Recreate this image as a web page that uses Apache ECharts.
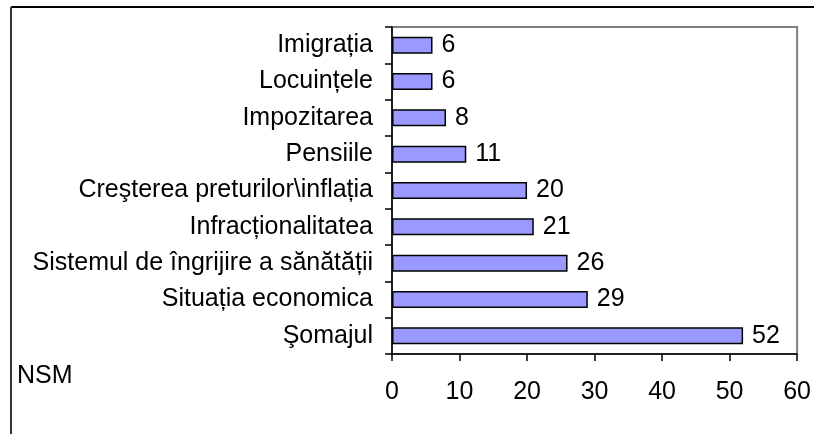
<!DOCTYPE html>
<html>
<head>
<meta charset="utf-8">
<script src="https://cdn.jsdelivr.net/npm/echarts@6/dist/echarts.min.js"></script>
<style>
    html, body { margin: 0; padding: 0; background: #fff; }
    #chart { width: 814px; height: 434px; }
</style>
</head>
<body>
<div id="chart"></div>
<script>
const categories = [
    'Imigrația',
    'Locuințele',
    'Impozitarea',
    'Pensiile',
    'Creşterea preturilor\\inflația',
    'Infracționalitatea',
    'Sistemul de îngrijire a sănătății',
    'Situația economica',
    'Şomajul'
]
const values = [6, 6, 8, 11, 20, 21, 26, 29, 52]
const xTicks = [0, 10, 20, 30, 40, 50, 60]
const noteText = 'NSM'

const font = 'Liberation Sans, Arial, sans-serif'
const chart = echarts.init(document.getElementById('chart'))

chart.setOption({
    animation: false,
    backgroundColor: '#fff',
    textStyle: { fontFamily: font },
    grid: {
        left: 392, right: 14, top: 27, bottom: 80,
        show: true, borderColor: '#808080', borderWidth: 2, backgroundColor: 'transparent'
    },
    xAxis: {
        type: 'value',
        min: xTicks[0],
        max: xTicks[xTicks.length - 1],
        interval: 10,
        splitLine: { show: false },
        axisLine: { show: true, lineStyle: { color: '#000', width: 1.5 } },
        axisTick: { show: true, length: 7, lineStyle: { color: '#000', width: 1.5 } },
        axisLabel: { color: '#000', fontSize: 25, fontFamily: font, margin: 26 }
    },
    yAxis: {
        type: 'category',
        inverse: true,
        data: categories,
        axisLine: { show: true, lineStyle: { color: '#000', width: 1.5 } },
        axisTick: { show: true, length: 7, lineStyle: { color: '#000', width: 1.5 } },
        axisLabel: { color: '#000', fontSize: 25, fontFamily: font, margin: 19 }
    },
    series: [{
        type: 'bar',
        data: values,
        barWidth: '47%',
        itemStyle: { color: '#9999ff', borderColor: '#000', borderWidth: 1.5 },
        label: {
            show: true, position: 'right', distance: 9,
            color: '#000', fontSize: 25, fontFamily: font
        }
    }],
    graphic: [
        { type: 'line', shape: { x1: 11, y1: 7, x2: 814, y2: 7 }, style: { stroke: '#000', lineWidth: 2 } },
        { type: 'line', shape: { x1: 11, y1: 7, x2: 11, y2: 434 }, style: { stroke: '#333', lineWidth: 2 } },
        { type: 'text', left: 17, top: 364, style: { text: noteText, fill: '#000', fontSize: 25, fontFamily: font } }
    ]
})
</script>
</body>
</html>
